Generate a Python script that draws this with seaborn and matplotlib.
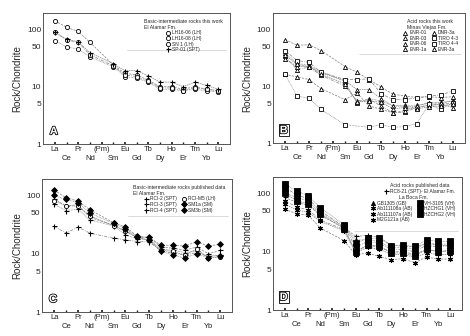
"""Chondrite-normalised REE patterns, four panels (A-D)."""

import matplotlib
matplotlib.use("Agg")
import matplotlib.pyplot as plt
import matplotlib.patheffects as pe
from matplotlib.ticker import FixedLocator, FixedFormatter
import numpy as np
import pandas as pd
import seaborn as sns

ELEMENTS = ["La", "Ce", "Pr", "Nd", "(Pm)", "Sm", "Eu", "Gd", "Tb",
            "Dy", "Ho", "Er", "Tm", "Yb", "Lu"]
NAN = np.nan

# Panel A - basic-intermediate rocks, this work (El Alamar Fm.)
A_NAMES = ["LH16-06 (LH)", "LH16-08 (LH)", "SN 1 (LH)", "SP-01 (SPT)"]
A_LH1606 = [139, 108, 91, 59, NAN, 24, 17, 16, 13, 10, 10, 9, 10, 9, 8.5]
A_LH1608 = [63, 49, 45, 33, NAN, 22, 15, 14, 12, 9, 9, 8.5, 9, 8.5, 8]
A_SN1 = [88, 65, 59, 36, NAN, 23, 16, 15, 12.5, 9.5, 9.5, 8.5, 9.5, 9, 8.5]
A_SP01 = [88, 67, 60, 39, NAN, 25, 19, 19, 15.5, 12, 12, 10, 12, 10.5, 9]

# Panel B - acid rocks, this work (Minas Viejas Fm.)
B_NAMES = ["ENR-01", "ENR-03", "ENR-06", "ENR-1a",
           "DNR-3a", "TIRO 4-3", "TIRO 4-4", "ENR-3a"]
B_ENR01 = [65, 52, 53, 42, NAN, 22, 17.5, 13, 9.7, 7.2, 6.7, 6.3, 6.5, 6.3, 6.5]
B_ENR03 = [38, 25, 23, 18, NAN, 12, 5.0, 6, 5.5, 4.5, 4.6, 4.6, 5.0, 5.2, 5.5]
B_ENR06 = [33, 19.5, 21.5, 15.5, NAN, 10, 5.5, 5.8, 4.5, 3.4, 3.5, 4.2, 4.6, 4.8, 5.0]
B_ENR1A = [30, 22, 22, 17, NAN, 12.5, 8.7, 8.7, 6, 4.5, 4.4, 4.3, 4.6, 4.8, 4.2]
B_DNR3A = [16, 14.5, 13, 9, NAN, 5.8, 7.5, 4.5, 3.9, 3.4, 3.7, 4.5, 5.1, 5.0, 5.5]
B_TIRO43 = [16, 6.7, 6.1, 3.9, NAN, 2.1, NAN, 1.9, 2.1, 1.9, 1.95, 2.2, 4.8, 3.9, 5.1]
B_TIRO44 = [42, 28, 26, 17.5, NAN, 13, 13, 13.4, 7.4, 5.8, 5.8, 6.2, 6.7, 7, 8.2]
B_ENR3A = [35, 24, 22, 16, NAN, 11, 5.3, 5.5, 5.2, 4.0, 4.2, 4.0, 4.3, 4.5, 4.8]

# Panel C - basic-intermediate rocks, published data (El Alamar Fm.)
C_NAMES = ["RCI-2 (SPT)", "RCI-3 (SPT)", "RCI-4 (SPT)",
           "RCI-M5 (LH)", "SM1a (SM)", "SM3b (SM)"]
C_RCI2 = [88, 65, 70, 42, NAN, 31, 24, 19, 19, 13, 12.5, 11.5, 13, 10, 11.5]
C_RCI3 = [70, 55, 58, 38, NAN, 30, 21, 18, 17.5, 12, 11.5, 10.5, 11, 9, 9.5]
C_RCI4 = [29.5, 22.6, 28.7, 22.6, NAN, 18.5, 17.3, 16.2, 16, 11.3, 10.2, 9.5, 10.4, 9, 9.5]
C_RCIM5 = [80, 67, 65, 45, NAN, 30, 25, 19, 17, 11.5, 11, 9.5, 12, 8.5, 8.8]
C_SM1A = [123, 91, 80, 57, NAN, 34, 29, 20, 19, 14, 14, 13.6, 16, 13.6, 14.6]
C_SM3B = [100, 85, 75, 50, NAN, 33, 27, 19.5, 17, 11, 9.5, 8.5, 10, 8.5, 9]

# Panel D - acid rocks, published data
D_NAMES = ["RC8-21 (SPT)- El Alamar Fm.", "GB1305 (GB)", "Ab111108a (AB)",
           "Ab111107a (AB)", "M2G121a (AB)", "VH-3105 (VH)",
           "HZCHG1 (VH)", "HZCHG2 (VH)"]
D_RC821 = [85, 70, 62, 42, NAN, 26, 18.4, 19, 17.6, 13, 12.5, 12, 14, 13, 12.5]
D_GB1305 = [102, 84, 74, 46, NAN, 27, 16, 16, 15, 11.5, 12, 11, 14, 13.5, 13.5]
D_AB108 = [75, 58, 52, 35, NAN, 24, 10, 13, 12, 10, 10, 9, 11, 10, 10.5]
D_AB107 = [65, 52, 47, 33, NAN, 23, 9.5, 12, 11, 9, 9, 8, 9.5, 9, 9]
D_M2G = [53, 45, 42, 25.5, NAN, 15.5, 8.9, 9.5, 8.3, 7.3, 7.6, 6.5, 8.1, 7.5, 7.5]
D_VH3105 = [143, 110, 90, 57, NAN, 29, 14, 17, 17, 12.7, 13, 12.3, 16, 15, 15]
D_HZ1 = [125, 95, 80, 50, NAN, 27, 12, 15, 14, 11, 11, 10, 13, 12, 13]
D_HZ2 = [100, 75, 65, 44, NAN, 25, 10, 13, 12.5, 9.5, 9.5, 8.5, 11, 10, 10.5]

ASTER = (6, 2, 0)

PANELS = [
    dict(letter="A", rect=[0.092, 0.571, 0.397, 0.390], box=False, ncol=1,
         title="Basic-intermediate rocks this work\nEl Alamar Fm.",
         series=list(zip(A_NAMES, [A_LH1606, A_LH1608, A_SN1, A_SP01],
                         ["o", "o", "o", "+"], [False, False, False, True]))),
    dict(letter="B", rect=[0.581, 0.574, 0.408, 0.387], box=True, ncol=2,
         title="Acid rocks this work\nMinas Viejas Fm.",
         series=list(zip(B_NAMES, [B_ENR01, B_ENR03, B_ENR06, B_ENR1A, B_DNR3A,
                                   B_TIRO43, B_TIRO44, B_ENR3A],
                         ["^", "^", "^", "^", "^", "s", "s", "^"],
                         [False] * 8))),
    dict(letter="C", rect=[0.090, 0.071, 0.404, 0.396], box=False, ncol=2,
         title="Basic-intermediate rocks published data\nEl Alamar Fm.",
         series=list(zip(C_NAMES, [C_RCI2, C_RCI3, C_RCI4, C_RCIM5, C_SM1A, C_SM3B],
                         ["+", "+", "+", "o", "D", "D"],
                         [True, True, True, False, True, True]))),
    dict(letter="D", rect=[0.581, 0.077, 0.402, 0.396], box=True, ncol=2,
         title="Acid rocks published data",
         series=list(zip(D_NAMES, [D_RC821, D_GB1305, D_AB108, D_AB107, D_M2G,
                                   D_VH3105, D_HZ1, D_HZ2],
                         ["+", "^", ASTER, ASTER, ASTER, "s", "s", "s"],
                         [True] * 8))),
]

LINESTYLES = [(0, (3, 1.5)), (0, (1, 1)), (0, (4, 1.5, 1, 1.5)), (0, (2, 1))]

sns.set_theme(style="white")
plt.rcParams["font.family"] = ["Liberation Sans", "DejaVu Sans"]

fig = plt.figure(figsize=(4.7, 3.36), dpi=100)
x_all = np.arange(len(ELEMENTS))


def marker_size(marker, filled):
    if marker == "s" and filled:
        return 4.2
    if marker in ("+", ASTER):
        return 3.6
    return 3.0


def add_legend(ax, handles, labels, title, ncol, anchor):
    leg = ax.legend(handles, labels, loc="upper right", ncol=ncol,
                    fontsize=3.5, title=title, title_fontsize=3.7,
                    frameon=False, handlelength=1.0, handletextpad=0.4,
                    columnspacing=0.9, labelspacing=0.12, borderpad=0.3,
                    bbox_to_anchor=anchor)
    for line in leg.get_lines():
        line.set_linestyle("none")
    return leg


for panel in PANELS:
    ax = fig.add_axes(panel["rect"])
    for i, (name, vals, marker, filled) in enumerate(panel["series"]):
        df = pd.DataFrame({"x": x_all, "y": vals}).dropna()
        sns.lineplot(data=df, x="x", y="y", ax=ax, color="#8a8a8a",
                     linewidth=0.55, linestyle=LINESTYLES[i % 4],
                     marker=marker, markersize=marker_size(marker, filled),
                     markerfacecolor="black" if filled else "white",
                     markeredgecolor="black",
                     markeredgewidth=0.8 if marker in ("+", ASTER) else 0.6,
                     label=name)
    ax.set_yscale("log")
    ax.set_ylim(1, 190)
    ax.set_xlim(-1, 15)
    ax.set_yticks([1, 5, 10, 50, 100])
    ax.set_yticklabels(["1", "5", "10", "50", "100"])
    ax.yaxis.set_minor_locator(FixedLocator([]))

    # staggered element labels: even positions on row one, odd on row two
    ax.xaxis.set_major_locator(FixedLocator(x_all[::2]))
    ax.xaxis.set_major_formatter(FixedFormatter(ELEMENTS[::2]))
    ax.xaxis.set_minor_locator(FixedLocator(x_all[1::2]))
    ax.xaxis.set_minor_formatter(FixedFormatter(ELEMENTS[1::2]))
    ax.tick_params(axis="x", which="major", labelsize=5.5, pad=1.5, length=1.5,
                   direction="in", bottom=True, colors="#222222")
    ax.tick_params(axis="x", which="minor", labelsize=5.5, pad=8, length=1.5,
                   direction="in", bottom=True, colors="#222222")
    ax.tick_params(axis="y", labelsize=6, pad=1.5, length=0)
    ax.set_xlabel("")
    ax.set_ylabel("Rock/Chondrite", fontsize=7, labelpad=3)
    for s in ax.spines.values():
        s.set_color("#555555")
        s.set_linewidth(0.7)

    handles, labels = ax.get_legend_handles_labels()
    if panel["letter"] == "D":
        first = add_legend(ax, handles[:1], labels[:1], panel["title"], 1,
                           (0.985, 0.985))
        ax.add_artist(first)
        add_legend(ax, handles[1:], labels[1:], "La Boca Fm.", 2,
                   (0.985, 0.895))
        ax.plot([0.43, 0.98], [0.595, 0.595], transform=ax.transAxes,
                color="#cccccc", linewidth=0.5)
    else:
        add_legend(ax, handles, labels, panel["title"], panel["ncol"],
                   (0.985, 0.985))
        y_rule = 0.685 if panel["letter"] == "B" else 0.72
        ax.plot([0.45, 0.98], [y_rule, y_rule], transform=ax.transAxes,
                color="#cccccc", linewidth=0.5)

    txt = ax.text(0.035, 0.06, panel["letter"], transform=ax.transAxes,
                  fontsize=8, fontweight="bold", color="white", ha="left",
                  va="bottom")
    txt.set_path_effects([pe.withStroke(linewidth=1.2, foreground="black")])
    if panel["box"]:
        txt.set_bbox(dict(boxstyle="square,pad=0.1", facecolor="white",
                          edgecolor="black", linewidth=0.6))

fig.savefig("out.png", dpi=100)
